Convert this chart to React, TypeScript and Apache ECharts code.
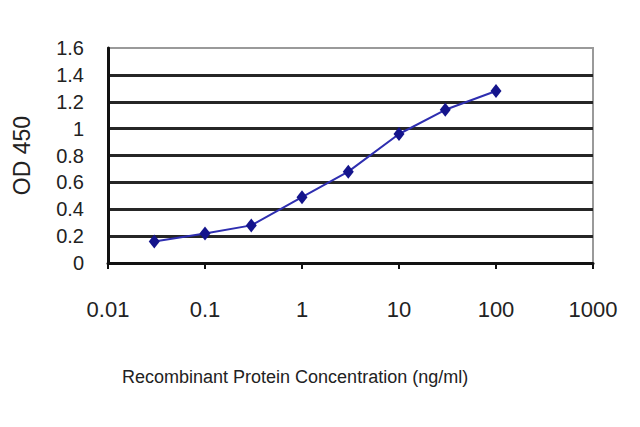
import React, { useEffect, useRef } from "react";
import * as echarts from "echarts";

const concentrations = [0.03, 0.1, 0.3, 1, 3, 10, 30, 100];
const odValues = [0.16, 0.22, 0.28, 0.49, 0.68, 0.96, 1.14, 1.28];
const xTickLabels = ["0.01", "0.1", "1", "10", "100", "1000"];
const yTickLabels = ["0", "0.2", "0.4", "0.6", "0.8", "1", "1.2", "1.4", "1.6"];

const SANS = "'Liberation Sans', Arial, sans-serif";

export default function App() {
  const ref = useRef<HTMLDivElement>(null);
  useEffect(() => {
    document.body.style.margin = "0";
    if (!ref.current) return;
    const chart = echarts.init(ref.current, undefined, { renderer: "svg" });
    chart.setOption({
      animation: false,
      backgroundColor: "#ffffff",
      grid: {
        left: 108,
        right: 47,
        top: 48,
        bottom: 164,
        show: true,
        borderColor: "#9a9a9a",
        borderWidth: 2,
        backgroundColor: "#ffffff",
      },
      xAxis: {
        type: "log",
        logBase: 10,
        min: 0.01,
        max: 1000,
        axisLine: { show: true, lineStyle: { color: "#111", width: 3 } },
        axisTick: { show: true, inside: false, length: 6, lineStyle: { color: "#111", width: 2 } },
        splitLine: { show: false },
        minorTick: { show: false },
        axisLabel: {
          margin: 35,
          fontSize: 22,
          color: "#222",
          fontFamily: SANS,
          showMinLabel: true,
          showMaxLabel: true,
          hideOverlap: false,
          formatter: (v: number) => {
            const i = Math.round(Math.log10(v)) + 2;
            return xTickLabels[i] ?? String(v);
          },
        },
      },
      yAxis: {
        type: "value",
        min: 0,
        max: 1.6,
        interval: 0.2,
        name: "OD 450",
        nameLocation: "middle",
        nameRotate: 90,
        nameGap: 75,
        nameTextStyle: { fontSize: 23, color: "#222", fontFamily: SANS },
        axisLine: { show: true, lineStyle: { color: "#111", width: 3 } },
        axisTick: { show: false },
        splitLine: {
          show: true,
          showMinLine: false,
          showMaxLine: false,
          lineStyle: { color: "#262626", width: 3 },
        },
        axisLabel: {
          margin: 24,
          fontSize: 20,
          lineHeight: 20,
          color: "#222",
          fontFamily: SANS,
          showMinLabel: true,
          showMaxLabel: true,
          hideOverlap: false,
          formatter: (v: number) => {
            const i = Math.round(v / 0.2);
            return yTickLabels[i] ?? String(v);
          },
        },
      },
      graphic: [
        {
          type: "text",
          left: 122,
          top: 368,
          style: {
            text: "Recombinant Protein Concentration (ng/ml)",
            fontSize: 18,
            fontFamily: SANS,
            fill: "#222",
          },
        },
      ],
      series: [
        {
          type: "line",
          data: concentrations.map((c, i) => [c, odValues[i]]),
          symbol: "diamond",
          symbolSize: [11, 14],
          itemStyle: { color: "#14148c" },
          lineStyle: { color: "#2e2eb0", width: 2 },
        },
      ],
    });
    return () => chart.dispose();
  }, []);
  return <div ref={ref} style={{ width: 640, height: 427 }} />;
}
